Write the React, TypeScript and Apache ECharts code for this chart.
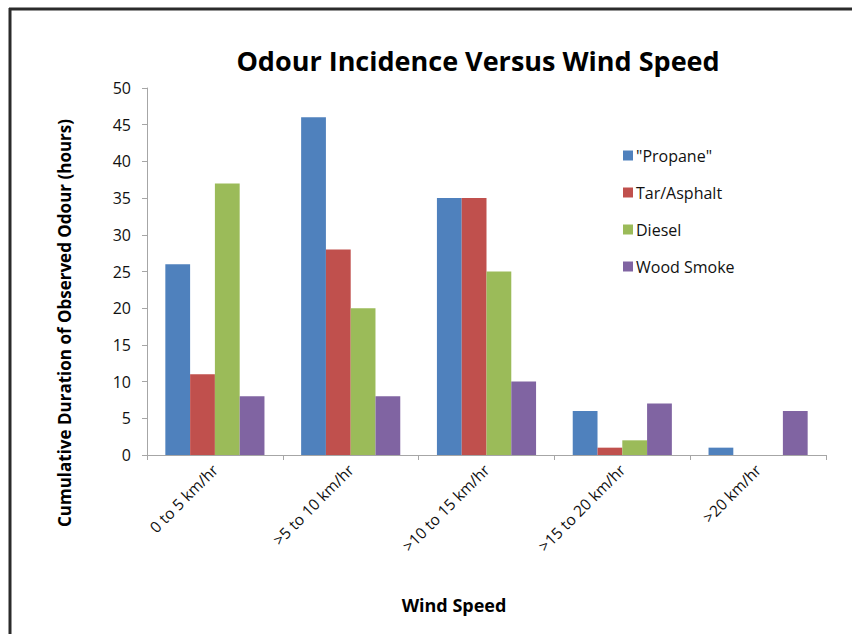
import React, { useEffect, useRef } from "react";
import * as echarts from "echarts";

const categories = ["0 to 5 km/hr", ">5 to 10 km/hr", ">10 to 15 km/hr", ">15 to 20 km/hr", ">20 km/hr"];
const propane = [26, 46, 35, 6, 1];
const tarAsphalt = [11, 28, 35, 1, 0];
const diesel = [37, 20, 25, 2, 0];
const woodSmoke = [8, 8, 10, 7, 6];
const seriesNames = ['"Propane"', "Tar/Asphalt", "Diesel", "Wood Smoke"];
const colors = ["#4F81BD", "#C0504D", "#9BBB59", "#8064A2"];
const titleText = "Odour Incidence Versus Wind Speed";
const xTitle = "Wind Speed";
const yTitle = "Cumulative Duration of Observed Odour (hours)";

const FONT = "'Open Sans', 'Noto Sans', sans-serif";

export default function App() {
  const ref = useRef<HTMLDivElement>(null);
  useEffect(() => {
    if (!ref.current) return;
    const chart = echarts.init(ref.current, undefined, { renderer: "svg" });
    const data = [propane, tarAsphalt, diesel, woodSmoke];
    chart.setOption({
      animation: false,
      backgroundColor: "#ffffff",
      textStyle: { fontFamily: FONT },
      title: {
        text: titleText,
        left: 473,
        textAlign: "center",
        top: 42,
        textStyle: { fontFamily: FONT, fontWeight: "bold", fontSize: 27, color: "#000" },
      },
      legend: {
        orient: "vertical",
        left: 623,
        top: 145,
        padding: 0,
        itemWidth: 10,
        itemHeight: 10,
        itemGap: 16,
        icon: "rect",
        data: seriesNames,
        textStyle: { fontFamily: FONT, fontSize: 16, color: "#111", lineHeight: 21, padding: [0, 0, 0, -2] },
      },
      grid: { left: 147, right: 26, top: 88, bottom: 179, containLabel: false },
      xAxis: {
        type: "category",
        data: categories,
        axisLine: { lineStyle: { color: "#a6a6a6", width: 1 } },
        axisTick: { show: true, length: 5, lineStyle: { color: "#a6a6a6" } },
        axisLabel: { rotate: 45, fontSize: 15.5, color: "#111", margin: 12, fontFamily: FONT },
      },
      yAxis: {
        type: "value",
        min: 0,
        max: 50,
        interval: 5,
        axisLine: { show: true, lineStyle: { color: "#a6a6a6", width: 1 } },
        axisTick: { show: true, length: 5, lineStyle: { color: "#a6a6a6" } },
        axisLabel: { fontSize: 16, color: "#111", margin: 16, fontFamily: FONT },
        splitLine: { show: false },
      },
      series: seriesNames.map((name, i) => ({
        name,
        type: "bar",
        data: data[i],
        barGap: "0%",
        barCategoryGap: "27%",
        itemStyle: { color: colors[i] },
      })),
      graphic: [
        { type: "line", shape: { x1: 9, y1: 9, x2: 852, y2: 9 }, style: { stroke: "#2b2b2b", lineWidth: 3 }, silent: true },
        { type: "line", shape: { x1: 10, y1: 8, x2: 10, y2: 634 }, style: { stroke: "#2b2b2b", lineWidth: 3 }, silent: true },
        {
          type: "text",
          x: 454,
          y: 605,
          silent: true,
          style: { text: xTitle, fontFamily: FONT, fontWeight: "bold", fontSize: 18, fill: "#000", align: "center", verticalAlign: "middle" },
        },
        {
          type: "text",
          x: 64,
          y: 323,
          rotation: Math.PI / 2,
          silent: true,
          style: { text: yTitle, fontFamily: FONT, fontWeight: "bold", fontSize: 17, fill: "#000", align: "center", verticalAlign: "middle" },
        },
      ],
    });
    return () => chart.dispose();
  }, []);
  return <div ref={ref} style={{ position: "fixed", left: 0, top: 0, width: 852, height: 634 }} />;
}
